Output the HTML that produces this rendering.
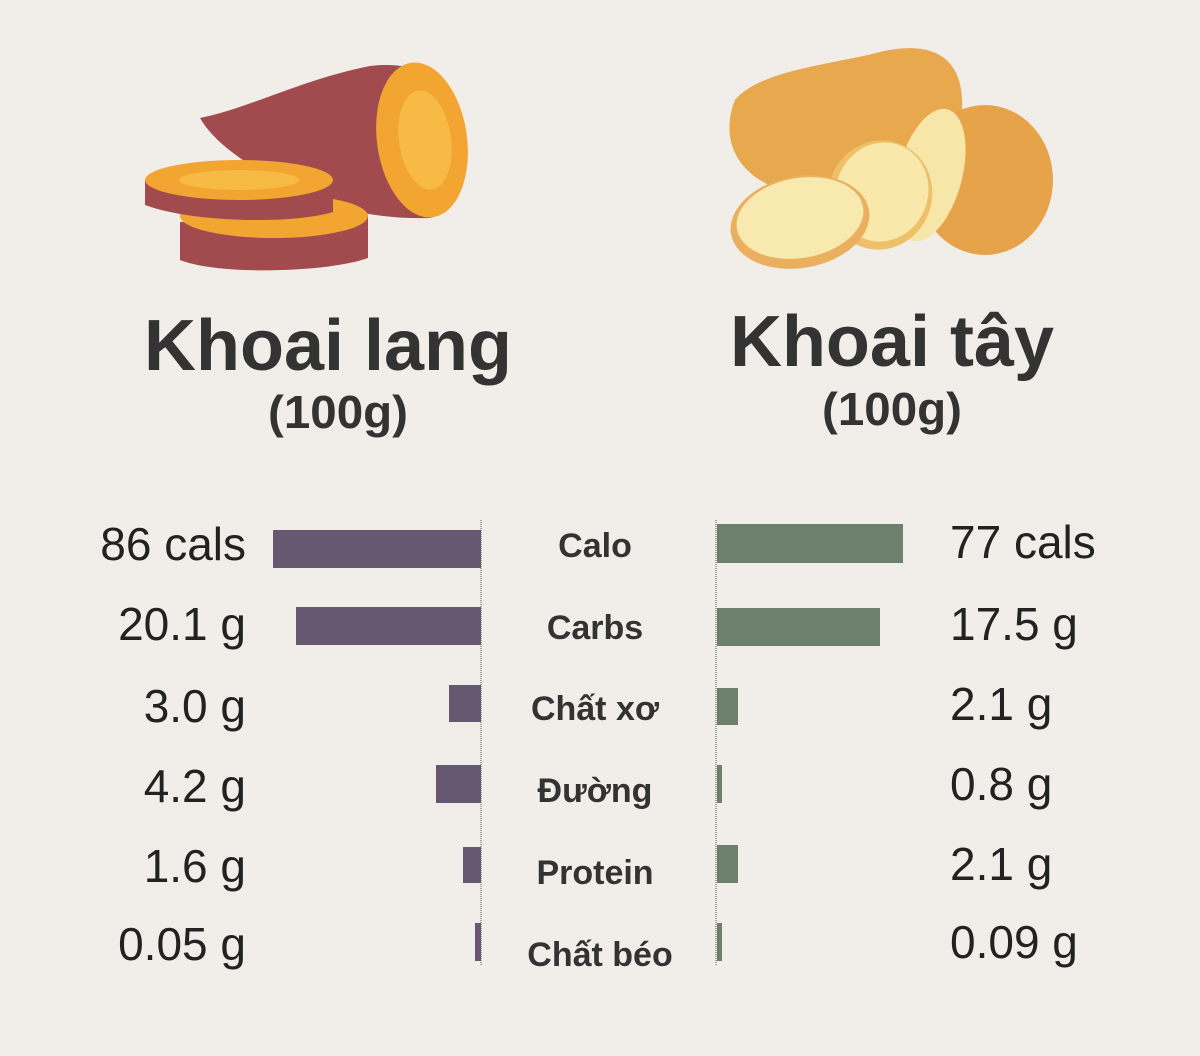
<!DOCTYPE html>
<html><head><meta charset="utf-8"><style>
html,body{margin:0;padding:0;background:#f1eee9;}
svg{display:block}
</style></head><body>
<svg width="1200" height="1056" viewBox="0 0 1200 1056" xmlns="http://www.w3.org/2000/svg" font-family="Liberation Sans, DejaVu Sans, sans-serif">
<rect width="1200" height="1056" fill="#f1eee9"/>
<!-- sweet potato -->
<path d="M200 118 C250 108 300 80 370 66 C420 60 450 80 465 130 C475 175 455 212 430 218 C360 220 300 200 250 165 C225 148 210 135 200 118Z" fill="#a24b4e"/>
<ellipse cx="422" cy="140" rx="45" ry="78" fill="#f2a531" transform="rotate(-8 422 140)"/>
<ellipse cx="425" cy="140" rx="26" ry="50" fill="#f7bb45" transform="rotate(-8 425 140)"/>
<path d="M180 222 L180 260 C220 276 330 272 368 258 L368 215 Z" fill="#a24b4e"/>
<ellipse cx="274" cy="216" rx="94" ry="22" fill="#f2a531"/>
<path d="M145 180 L145 205 C190 222 290 225 333 212 L333 188 Z" fill="#a24b4e"/>
<ellipse cx="239" cy="180" rx="94" ry="20" fill="#f2a531"/>
<ellipse cx="239" cy="180" rx="60" ry="10" fill="#f7bb45"/>
<!-- potato -->
<path d="M735 100 C760 70 830 65 880 52 C930 40 965 55 962 110 C960 170 900 195 820 195 C750 195 715 150 735 100Z" fill="#e8a84e"/>
<ellipse cx="985" cy="180" rx="68" ry="75" fill="#e7a34a"/>
<ellipse cx="930" cy="175" rx="32" ry="68" fill="#f6e7a8" transform="rotate(15 930 175)"/>
<ellipse cx="880" cy="195" rx="52" ry="55" fill="#eec06a" transform="rotate(20 880 195)"/>
<ellipse cx="882" cy="192" rx="46" ry="50" fill="#f8e9ab" transform="rotate(20 882 192)"/>
<ellipse cx="800" cy="222" rx="70" ry="46" fill="#eab060" transform="rotate(-10 800 222)"/>
<ellipse cx="800" cy="218" rx="64" ry="40" fill="#f8eaae" transform="rotate(-10 800 218)"/>
<!-- titles -->
<g fill="#333" font-weight="bold" text-anchor="middle">
<text x="328" y="370" font-size="72">Khoai lang</text>
<text x="338" y="428" font-size="46" textLength="140" lengthAdjust="spacingAndGlyphs">(100g)</text>
<text x="892" y="366" font-size="72">Khoai tây</text>
<text x="892" y="425" font-size="46" textLength="140" lengthAdjust="spacingAndGlyphs">(100g)</text>
</g>
<!-- axis lines -->
<line x1="481" y1="520" x2="481" y2="965" stroke="#555" stroke-width="1" stroke-dasharray="1 1"/>
<line x1="716" y1="520" x2="716" y2="965" stroke="#555" stroke-width="1" stroke-dasharray="1 1"/>
<!-- left bars -->
<g fill="#655870">
<rect x="273" y="530" width="208" height="38"/>
<rect x="296" y="607" width="185" height="38"/>
<rect x="449" y="685" width="32" height="37"/>
<rect x="436" y="765" width="45" height="38"/>
<rect x="463" y="847" width="18" height="36"/>
<rect x="475" y="923" width="6" height="38"/>
</g>
<g fill="#6c806b">
<rect x="717" y="524" width="186" height="39"/>
<rect x="717" y="608" width="163" height="38"/>
<rect x="717" y="688" width="21" height="37"/>
<rect x="717" y="765" width="5" height="38"/>
<rect x="717" y="845" width="21" height="38"/>
<rect x="717" y="923" width="5" height="38"/>
</g>
<g fill="#222" font-size="46" text-anchor="end">
<text x="246" y="560">86 cals</text>
<text x="246" y="640">20.1 g</text>
<text x="246" y="722">3.0 g</text>
<text x="246" y="802">4.2 g</text>
<text x="246" y="882">1.6 g</text>
<text x="246" y="960">0.05 g</text>
</g>
<g fill="#222" font-size="46">
<text x="950" y="558">77 cals</text>
<text x="950" y="640">17.5 g</text>
<text x="950" y="720">2.1 g</text>
<text x="950" y="800">0.8 g</text>
<text x="950" y="880">2.1 g</text>
<text x="950" y="958">0.09 g</text>
</g>
<g fill="#333" font-size="34" font-weight="bold" text-anchor="middle">
<text x="595" y="557">Calo</text>
<text x="595" y="639">Carbs</text>
<text x="595" y="720">Chất xơ</text>
<text x="595" y="802">Đường</text>
<text x="595" y="884">Protein</text>
<text x="600" y="966">Chất béo</text>
</g>
</svg>
</body></html>
